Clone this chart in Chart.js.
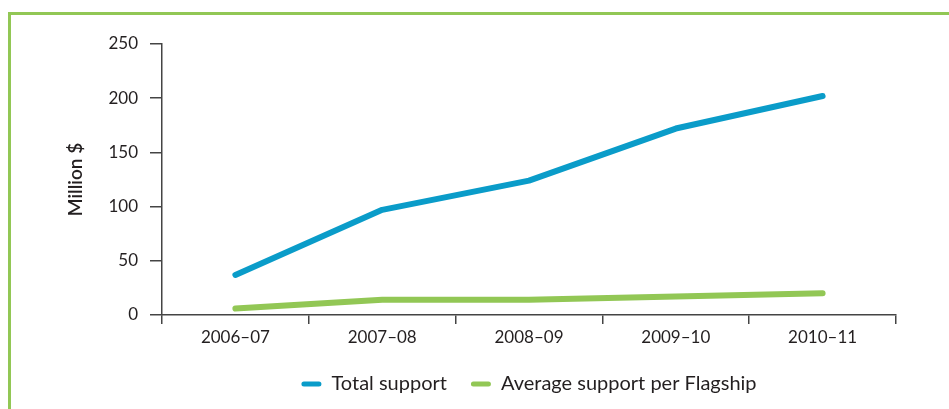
<!DOCTYPE html>
<html>
<head>
<meta charset="utf-8">
<script src="https://cdn.jsdelivr.net/npm/chart.js@4"></script>
<style>
  html, body { margin: 0; padding: 0; background: #fff; overflow: hidden; }
  #wrap { position: relative; width: 949px; height: 409px; }
  #frame { position: absolute; left: 8px; top: 12px; width: 980px; height: 440px; border: 3px solid #92c755; box-sizing: border-box; }
  #chart { position: absolute; left: 0; top: 0; }
</style>
</head>
<body>
<div id="wrap">
  <div id="frame"></div>
  <canvas id="chart" width="949" height="409"></canvas>
</div>
<script>
// Dados do gráfico
const anos = ['2006–07', '2007–08', '2008–09', '2009–10', '2010–11'];
const totalSupport = [37, 97, 124, 172, 202];
const avgSupport = [6, 14, 14, 17, 20];
const yTicks = [0, 50, 100, 150, 200, 250];

const fonte = 'Lato, "Open Sans", sans-serif';
const corTexto = '#231f20';
const corEixo = '#444';

const ctx = document.getElementById('chart').getContext('2d');
const chart = new Chart(ctx, {
    type: 'line',
    data: {
        labels: anos,
        datasets: [{
            label: 'Total support',
            data: totalSupport,
            borderColor: '#0a9cc9',
            backgroundColor: '#0a9cc9',
            borderWidth: 6,
            borderCapStyle: 'round',
            borderJoinStyle: 'round',
            pointRadius: 0,
            tension: 0
        }, {
            label: 'Average support per Flagship',
            data: avgSupport,
            borderColor: '#92c755',
            backgroundColor: '#92c755',
            borderWidth: 6,
            borderCapStyle: 'round',
            borderJoinStyle: 'round',
            pointRadius: 0,
            tension: 0
        }]
    },
    options: {
        responsive: false,
        animation: false,
        layout: { padding: { left: 0, right: 53, top: 44, bottom: 5 } },
        plugins: {
            tooltip: { enabled: false },
            legend: {
                position: 'bottom',
                fullSize: false,
                labels: {
                    color: corTexto,
                    font: { family: fonte, size: 20 },
                    boxWidth: 20,
                    boxHeight: 5,
                    padding: 24,
                    useBorderRadius: true,
                    borderRadius: 2.5,
                    generateLabels: (c) => Chart.defaults.plugins.legend.labels.generateLabels(c).map(l => {
                        l.lineWidth = 0;
                        return l;
                    })
                }
            }
        },
        scales: {
            x: {
                offset: true,
                grid: {
                    offset: true,
                    drawOnChartArea: false,
                    drawTicks: true,
                    tickLength: 9,
                    color: corEixo,
                    lineWidth: 1.5
                },
                border: { display: true, color: corEixo, width: 1.5 },
                ticks: {
                    color: corTexto,
                    font: { family: fonte, size: 17 },
                    padding: 3,
                    maxRotation: 0
                },
                afterFit: (s) => { s.height = 35; }
            },
            y: {
                min: 0,
                max: 250,
                afterBuildTicks: (s) => { s.ticks = yTicks.map(v => ({ value: v })); },
                grid: {
                    drawOnChartArea: false,
                    drawTicks: true,
                    tickLength: 12,
                    color: corEixo,
                    lineWidth: 1.5
                },
                border: { display: true, color: corEixo, width: 1.5 },
                ticks: {
                    color: corTexto,
                    font: { family: fonte, size: 17 },
                    padding: 12
                },
                title: {
                    display: true,
                    text: 'Million $',
                    color: corTexto,
                    font: { family: fonte, size: 19, weight: '600' },
                    padding: { top: 64, bottom: 0 }
                },
                afterFit: (s) => { s.width = 162; }
            }
        }
    }
});
</script>
</body>
</html>
